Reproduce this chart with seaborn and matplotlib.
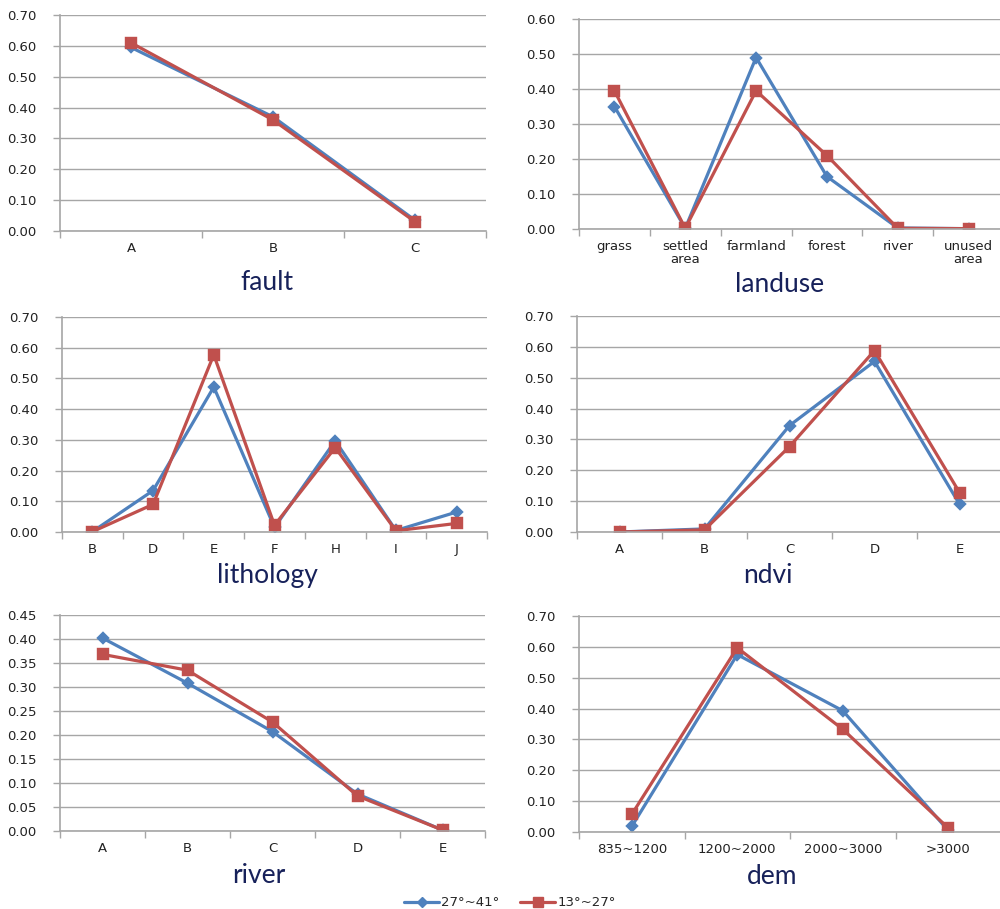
import matplotlib
matplotlib.use("Agg")
import matplotlib.pyplot as plt
from matplotlib.lines import Line2D
import numpy as np
import pandas as pd
import seaborn as sns

sns.set_theme(style="white")
plt.rcParams["font.family"] = ["DejaVu Sans"]

SERIES = ["27°~41°", "13°~27°"]
COLORS = {"27°~41°": "#4F81BD", "13°~27°": "#C0504D"}
MARKERS = ["D", "s"]

# factor classes and the two series of values for each factor
fault_cats = ["A", "B", "C"]
fault_hi = [0.595, 0.370, 0.035]
fault_lo = [0.610, 0.360, 0.030]

landuse_cats = ["grass", "settled\narea", "farmland", "forest", "river", "unused\narea"]
landuse_hi = [0.350, 0.002, 0.490, 0.150, 0.003, 0.001]
landuse_lo = [0.395, 0.002, 0.395, 0.210, 0.002, 0.001]

lithology_cats = ["B", "D", "E", "F", "H", "I", "J"]
lithology_hi = [0.001, 0.135, 0.472, 0.015, 0.297, 0.005, 0.065]
lithology_lo = [0.001, 0.090, 0.577, 0.022, 0.275, 0.004, 0.028]

ndvi_cats = ["A", "B", "C", "D", "E"]
ndvi_hi = [0.000, 0.010, 0.345, 0.553, 0.090]
ndvi_lo = [0.000, 0.007, 0.277, 0.588, 0.128]

river_cats = ["A", "B", "C", "D", "E"]
river_hi = [0.402, 0.308, 0.207, 0.077, 0.002]
river_lo = [0.368, 0.335, 0.227, 0.073, 0.002]

dem_cats = ["835~1200", "1200~2000", "2000~3000", ">3000"]
dem_hi = [0.018, 0.575, 0.393, 0.005]
dem_lo = [0.057, 0.597, 0.333, 0.013]

W, H = 1000, 909
fig = plt.figure(figsize=(W / 100, H / 100), dpi=100)

GRID = "#A6A6A6"
TITLE_COLOR = "#17215A"
TICK_SIZE = 9.5

panels = [
    # name, cats, hi, lo, ymax, ystep, (left, right, top, bottom) px, title (x, baseline y)
    ("fault", fault_cats, fault_hi, fault_lo, 0.70, 0.10, (60, 486, 15, 231), (267, 290)),
    ("landuse", landuse_cats, landuse_hi, landuse_lo, 0.60, 0.10, (579, 1004, 19, 229), (780, 292)),
    ("lithology", lithology_cats, lithology_hi, lithology_lo, 0.70, 0.10, (62, 487, 317, 532), (267, 583)),
    ("ndvi", ndvi_cats, ndvi_hi, ndvi_lo, 0.70, 0.10, (577, 1002, 316, 532), (768, 583)),
    ("river", river_cats, river_hi, river_lo, 0.45, 0.05, (60, 485, 615, 831), (259, 883)),
    ("dem", dem_cats, dem_hi, dem_lo, 0.70, 0.10, (579, 1001, 616, 832), (772, 884)),
]

for name, cats, hi, lo, ymax, ystep, (l, r, t, b), (tx, ty) in panels:
    ax = fig.add_axes([l / W, 1 - b / H, (r - l) / W, (b - t) / H])
    df = pd.DataFrame({
        "cls": list(cats) * 2,
        "value": list(hi) + list(lo),
        "series": [SERIES[0]] * len(cats) + [SERIES[1]] * len(cats),
    })
    sns.pointplot(
        data=df, x="cls", y="value", hue="series", hue_order=SERIES,
        order=cats, palette=COLORS, markers=MARKERS, linestyles=["-", "-"],
        errorbar=None, dodge=False, ax=ax, legend=False,
        markersize=6.5, linewidth=2.3,
    )
    # shrink the diamond a bit relative to the square
    for line in ax.lines:
        if line.get_marker() == "D":
            line.set_markersize(5)
    n = len(cats)
    ax.set_xlim(-0.5, n - 0.5)
    ax.set_ylim(0, ymax)
    yt = np.round(np.arange(0, ymax + 1e-9, ystep), 2)
    ax.set_yticks(yt)
    ax.set_yticklabels([f"{v:.2f}" for v in yt])
    ax.set_xticks(range(n))
    ax.set_xticklabels(cats, linespacing=1.0)
    ax.set_xticks(np.arange(n + 1) - 0.5, minor=True)
    ax.set_xlabel("")
    ax.set_ylabel("")
    ax.grid(axis="y", color=GRID, linewidth=1.0)
    ax.set_axisbelow(True)
    for s in ("top", "right"):
        ax.spines[s].set_visible(False)
    for s in ("left", "bottom"):
        ax.spines[s].set_visible(True)
        ax.spines[s].set_color(GRID)
        ax.spines[s].set_linewidth(1.2)
    ax.tick_params(axis="y", which="major", length=5, width=1, color=GRID,
                   labelsize=TICK_SIZE, pad=12, labelcolor="#222222", left=True)
    ax.tick_params(axis="x", which="major", length=0, labelsize=TICK_SIZE, pad=8,
                   labelcolor="#222222")
    ax.tick_params(axis="x", which="minor", length=5, width=1, color=GRID,
                   bottom=True)
    ax.set_facecolor("white")
    fig.text(tx / W, 1 - ty / H, name, ha="center", va="baseline",
             fontsize=19, color=TITLE_COLOR, family=["Lato", "DejaVu Sans"])

handles = [
    Line2D([], [], color=COLORS[s], marker=m, linewidth=2.3,
           markersize=(5 if m == "D" else 6.5))
    for s, m in zip(SERIES, MARKERS)
]
fig.legend(handles, SERIES, loc="center", bbox_to_anchor=(510 / W, 1 - 903 / H),
           ncol=2, frameon=False, fontsize=9.5, handlelength=2.65,
           handletextpad=0.15, columnspacing=1.6)

fig.savefig("out.png", dpi=100, facecolor="white")
